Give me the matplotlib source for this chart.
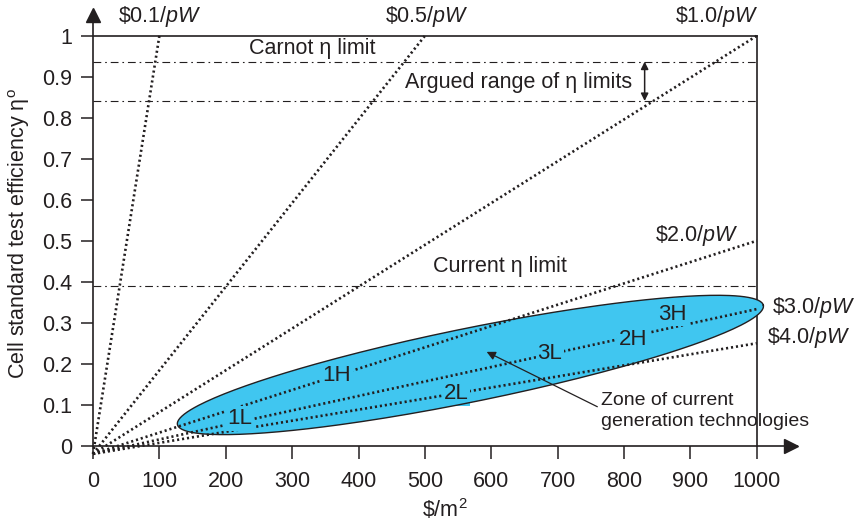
import numpy as np
import matplotlib
matplotlib.use('Agg')
import matplotlib.pyplot as plt

plt.rcParams['font.family'] = ['Liberation Sans', 'DejaVu Sans']
plt.rcParams['mathtext.fontset'] = 'custom'
plt.rcParams['mathtext.rm'] = 'Liberation Sans'
plt.rcParams['mathtext.it'] = 'Liberation Sans:italic'

# cost lines in $/pW
prices = [0.1, 0.5, 1.0, 2.0, 3.0, 4.0]
price_labels = [r'\$0.1/$pW$', r'\$0.5/$pW$', r'\$1.0/$pW$',
                r'\$2.0/$pW$', r'\$3.0/$pW$', r'\$4.0/$pW$']
price_label_pos = [(101, 1.046), (503, 1.046), (940, 1.046),
                   (909, 0.513), (1086, 0.338), (1079, 0.265)]

# efficiency limits
limit_levels = [0.937, 0.841, 0.39]

# technology labels
tech_names = ['1L', '1H', '2L', '3L', '2H', '3H']
tech_x = [221, 367, 547, 688, 813, 873]
tech_y = [0.067, 0.172, 0.128, 0.224, 0.260, 0.321]

# zone ellipse: centre and two conjugate semi-axes (data units)
zone_center = (568.5, 0.197)
zone_a = (441.3, 0.1454)
zone_b = (-11.0, 0.088)

ink = '#231f20'
blue = '#40c6f0'
fs = 15.5

fig = plt.figure(figsize=(8.62, 5.25), dpi=100)
ax = fig.add_axes([0.1079, 0.1276, 0.8163, 0.8534])
ax.set_xlim(0, 1060)
ax.set_ylim(-0.03, 1.063)

for s in ['top', 'right']:
    ax.spines[s].set_visible(False)
ax.spines['bottom'].set_position(('data', 0))
ax.spines['left'].set_bounds(0, 1.05)
for s in ['bottom', 'left']:
    ax.spines[s].set_color(ink)
    ax.spines[s].set_linewidth(1.2)
ax.plot([1052], [0], marker='>', ms=10, color=ink, clip_on=False)
ax.plot([0], [1.05], marker='^', ms=10, color=ink, clip_on=False)

ax.set_xticks(np.arange(0, 1001, 100))
ax.set_yticks(np.round(np.arange(0, 1.01, 0.1), 1))
ax.set_yticklabels(['0'] + ['%.1f' % v for v in np.arange(0.1, 0.95, 0.1)] + ['1'])
ax.tick_params(direction='out', length=9, width=1.1, color=ink,
               labelcolor=ink, labelsize=fs)
ax.tick_params(axis='x', pad=9)
ax.tick_params(axis='y', pad=6)

# frame at eta = 1 and x = 1000
ax.plot([0, 1000], [1, 1], color=ink, lw=1.2)
ax.plot([1000, 1000], [0, 1], color=ink, lw=1.2)

# zone ellipse (fill below the lines, outline on top)
t = np.linspace(0, 2 * np.pi, 300)
ex = zone_center[0] + np.cos(t) * zone_a[0] + np.sin(t) * zone_b[0]
ey = zone_center[1] + np.cos(t) * zone_a[1] + np.sin(t) * zone_b[1]
ax.fill(ex, ey, facecolor=blue, edgecolor='none', zorder=2)
ax.plot(ex, ey, color=ink, lw=1.0, zorder=6)

# dash-dot limit lines
for lv in limit_levels:
    ax.plot([0, 1000], [lv, lv], color=ink, lw=0.8,
            linestyle=(0, (7, 3.5, 1.5, 3.5)), zorder=3)

# dotted cost lines
for p, lab, pos in zip(prices, price_labels, price_label_pos):
    xe = min(1000.0, 1000.0 * p)
    ye = xe / (1000.0 * p)
    ax.plot([0, xe], [-0.02, ye], color=ink, lw=1.9,
            linestyle=(0, (0.8, 1.1)), zorder=4, clip_on=False)
    ax.text(pos[0], pos[1], lab, fontsize=fs, color=ink,
            ha='center', va='center', clip_on=False)

for name, x, y in zip(tech_names, tech_x, tech_y):
    ax.text(x, y, name, fontsize=16, color=ink, ha='center', va='center',
            zorder=5, bbox=dict(boxstyle='square,pad=0.08', fc=blue, ec='none'))

ax.text(330, 0.97, 'Carnot η limit', fontsize=fs, color=ink,
        ha='center', va='center')
ax.text(641, 0.887, 'Argued range of η limits', fontsize=fs, color=ink,
        ha='center', va='center')
ax.text(613, 0.437, 'Current η limit', fontsize=fs, color=ink,
        ha='center', va='center')
ax.annotate('', xy=(831, limit_levels[0]), xytext=(831, limit_levels[1]),
            arrowprops=dict(arrowstyle='<|-|>', color=ink, lw=1.1,
                            mutation_scale=11, shrinkA=0, shrinkB=0))

ax.annotate('Zone of current\ngeneration technologies', xy=(593, 0.229),
            xytext=(766, 0.084), fontsize=14, color=ink, va='center',
            ha='left', linespacing=1.3,
            arrowprops=dict(arrowstyle='-|>', color=ink, lw=0.9,
                            mutation_scale=13, shrinkA=0, shrinkB=0,
                            relpos=(-0.02, 0.62)), zorder=7)

ax.set_xlabel(r'\$/m$^{\mathrm{2}}$', fontsize=fs, color=ink, labelpad=4)
ax.set_ylabel(r'Cell standard test efficiency η$^{\mathrm{o}}$',
              fontsize=fs, color=ink, labelpad=7)

plt.savefig('out.png', dpi=100)
